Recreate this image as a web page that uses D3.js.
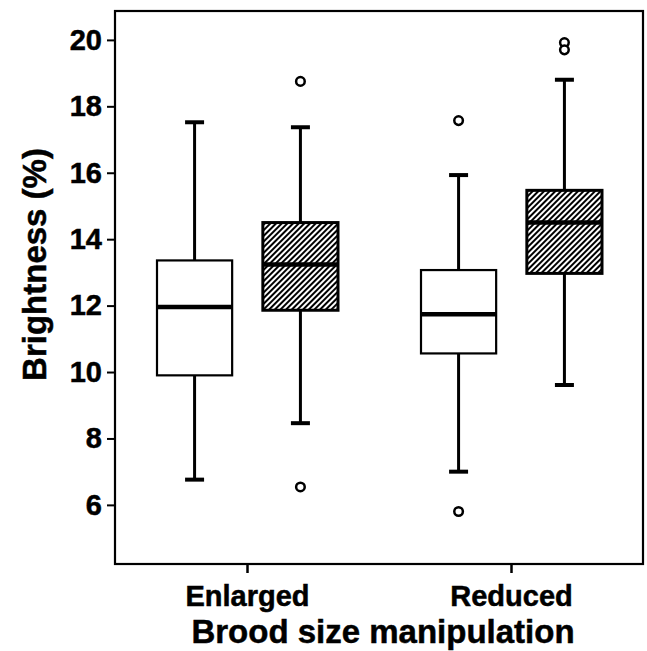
<!DOCTYPE html>
<html>
<head>
<meta charset="utf-8">
<script src="https://cdn.jsdelivr.net/npm/d3@7"></script>
<style>
  body { margin: 0; background: #fff; }
  text { font-family: "Liberation Sans", Arial, sans-serif; font-weight: bold; fill: #000; stroke: #000; stroke-width: 0.5px; }
</style>
</head>
<body>
<svg id="chart"></svg>
<script>
// data
const groups = ["Enlarged", "Reduced"]
const series = ["open", "hatched"]
const yTicks = [6, 8, 10, 12, 14, 16, 18, 20]

// [low whisker, Q1, median, Q3, high whisker] per group
const openBoxes = [
  [6.76, 9.9, 11.96, 13.36, 17.52],
  [7.0, 10.56, 11.74, 13.07, 15.93],
]
const hatchedBoxes = [
  [8.46, 11.86, 13.24, 14.5, 17.37],
  [9.61, 12.97, 14.5, 15.47, 18.8],
]
const openOutliers = [[], [17.57, 5.8]]
const hatchedOutliers = [[18.75, 6.54], [19.92, 19.7]]

const rows = []
groups.forEach((g, i) => {
  rows.push({ group: g, series: "open", stats: openBoxes[i], outliers: openOutliers[i] })
  rows.push({ group: g, series: "hatched", stats: hatchedBoxes[i], outliers: hatchedOutliers[i] })
})

// dimensions
let dimensions = {
  width: 647,
  height: 651,
  margin: { top: 11, right: 4, bottom: 87, left: 115 },
}
dimensions.boundedWidth = dimensions.width - dimensions.margin.left - dimensions.margin.right
dimensions.boundedHeight = dimensions.height - dimensions.margin.top - dimensions.margin.bottom

const svg = d3.select("#chart")
  .attr("width", dimensions.width)
  .attr("height", dimensions.height)

const defs = svg.append("defs")
const pattern = defs.append("pattern")
  .attr("id", "hatch")
  .attr("patternUnits", "userSpaceOnUse")
  .attr("width", 4)
  .attr("height", 4)
  .attr("patternTransform", "rotate(45)")
pattern.append("rect")
  .attr("width", 4).attr("height", 4).attr("fill", "#fff")
pattern.append("line")
  .attr("x1", 1).attr("y1", 0).attr("x2", 1).attr("y2", 4)
  .attr("stroke", "#000").attr("stroke-width", 2)

const bounds = svg.append("g")
  .attr("transform", `translate(${dimensions.margin.left}, ${dimensions.margin.top})`)

// scales
const xScale = d3.scalePoint()
  .domain(groups)
  .range([0, dimensions.boundedWidth])
  .padding(0.5)

const subScale = d3.scaleBand()
  .domain(series)
  .range([-90, 91])
  .paddingInner(0.29)

const yScale = d3.scaleLinear()
  .domain([4.22, 20.87])
  .range([dimensions.boundedHeight, 0])

const boxW = subScale.bandwidth()
const capW = 19

// boxes
const box = bounds.selectAll(".box")
  .data(rows)
  .join("g")
  .attr("class", "box")
  .attr("transform", d => `translate(${xScale(d.group) + subScale(d.series) + boxW / 2}, 0)`)

// whiskers
box.append("line")
  .attr("x1", 0).attr("x2", 0)
  .attr("y1", d => yScale(d.stats[3]))
  .attr("y2", d => yScale(d.stats[4]))
  .attr("stroke", "#000").attr("stroke-width", 3)
box.append("line")
  .attr("x1", 0).attr("x2", 0)
  .attr("y1", d => yScale(d.stats[1]))
  .attr("y2", d => yScale(d.stats[0]))
  .attr("stroke", "#000").attr("stroke-width", 3)

// caps
box.selectAll(".cap")
  .data(d => [d.stats[0], d.stats[4]])
  .join("line")
  .attr("class", "cap")
  .attr("x1", -capW / 2).attr("x2", capW / 2)
  .attr("y1", v => yScale(v)).attr("y2", v => yScale(v))
  .attr("stroke", "#000").attr("stroke-width", 4)

box.append("rect")
  .attr("x", -boxW / 2)
  .attr("width", boxW)
  .attr("y", d => yScale(d.stats[3]))
  .attr("height", d => yScale(d.stats[1]) - yScale(d.stats[3]))
  .attr("fill", d => d.series === "hatched" ? "url(#hatch)" : "#fff")
  .attr("stroke", "#000")
  .attr("stroke-width", d => d.series === "hatched" ? 3 : 2.2)

// median
box.append("line")
  .attr("x1", -boxW / 2).attr("x2", boxW / 2)
  .attr("y1", d => yScale(d.stats[2]))
  .attr("y2", d => yScale(d.stats[2]))
  .attr("stroke", "#000").attr("stroke-width", 4.5)

// outliers
box.selectAll(".outlier")
  .data(d => d.outliers)
  .join("circle")
  .attr("class", "outlier")
  .attr("cx", 0)
  .attr("cy", v => yScale(v))
  .attr("r", 4.3)
  .attr("fill", "#fff")
  .attr("stroke", "#000")
  .attr("stroke-width", 2.5)

// frame
bounds.append("rect")
  .attr("width", dimensions.boundedWidth)
  .attr("height", dimensions.boundedHeight)
  .attr("fill", "none")
  .attr("stroke", "#000")
  .attr("stroke-width", 2.2)

// axes
const yAxisGenerator = d3.axisLeft(yScale)
  .tickValues(yTicks)
  .tickSize(8)
  .tickPadding(5)
  .tickFormat(d3.format("d"))

const yAxis = bounds.append("g").call(yAxisGenerator)
yAxis.select(".domain").remove()
yAxis.selectAll("line").attr("stroke", "#000").attr("stroke-width", 2)
yAxis.selectAll("text")
  .style("font-size", "29px")
  .style("font-family", "'Liberation Sans', Arial, sans-serif")
  .style("font-weight", "bold")

const xAxisGenerator = d3.axisBottom(xScale)
  .tickSize(9)
  .tickPadding(12)

const xAxis = bounds.append("g")
  .attr("transform", `translate(0, ${dimensions.boundedHeight})`)
  .call(xAxisGenerator)
xAxis.select(".domain").remove()
xAxis.selectAll("line").attr("stroke", "#000").attr("stroke-width", 2.5)
xAxis.selectAll("text")
  .style("font-size", "29px")
  .style("font-family", "'Liberation Sans', Arial, sans-serif")
  .style("font-weight", "bold")

// axis titles
svg.append("text")
  .attr("x", dimensions.margin.left + dimensions.boundedWidth / 2 + 4)
  .attr("y", 643)
  .attr("text-anchor", "middle")
  .style("font-size", "33px")
  .text("Brood size manipulation")

svg.append("text")
  .attr("transform", `translate(46, ${(40 + 505) / 2 - 8}) rotate(-90)`)
  .attr("text-anchor", "middle")
  .style("font-size", "33px")
  .text("Brightness (%)")
</script>
</body>
</html>
